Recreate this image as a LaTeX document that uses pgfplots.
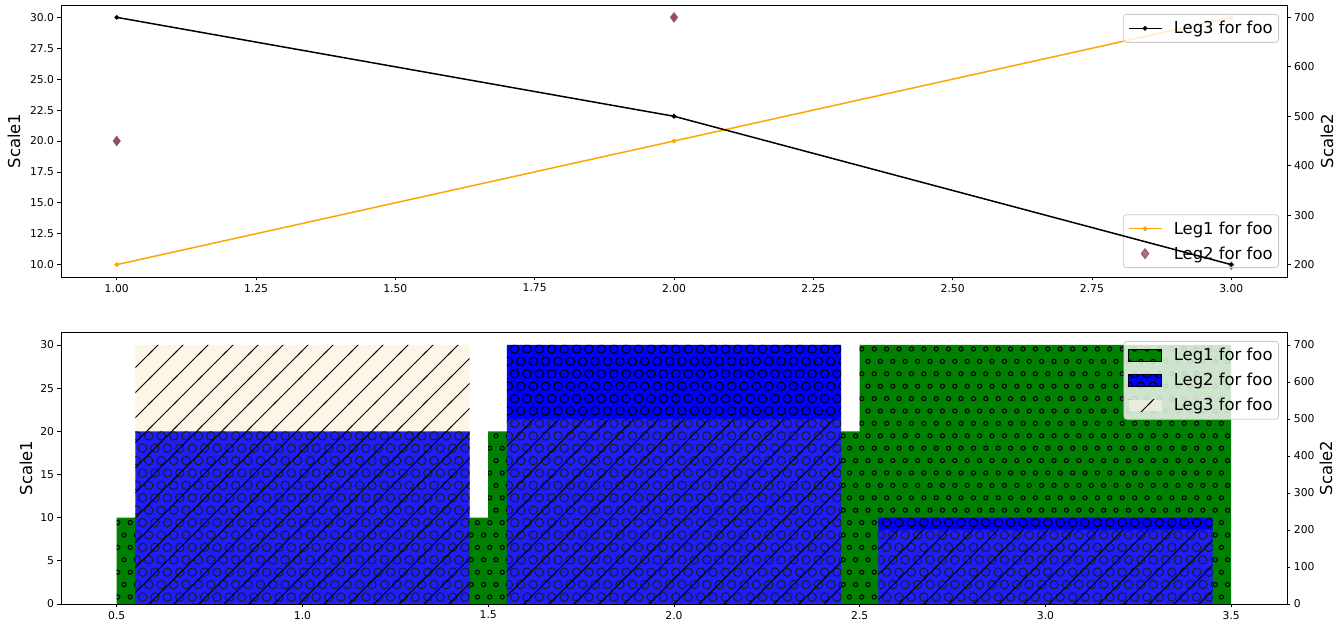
\documentclass[border=0pt]{standalone}
\usepackage{fontspec}
\setmainfont{DejaVu Sans}
\usepackage{pgfplots}
\pgfplotsset{compat=1.18}
\usetikzlibrary{patterns.meta}

\definecolor{mplgreen}{RGB}{0,128,0}
\definecolor{mplblue}{RGB}{0,0,255}
\definecolor{oldlace}{RGB}{253,245,230}
\definecolor{mplorange}{RGB}{255,165,0}
\definecolor{mauve}{RGB}{145,78,115}
\definecolor{legframe}{RGB}{204,204,204}

\tikzdeclarepattern{
  name=mplsmallcircles,
  type=uncolored,
  bounding box={(-4bp,-4bp) and (16.4bp,28.8bp)},
  tile size={(12.4bp,24.8bp)},
  code={
    \draw[line width=1bp] (6.2bp,6.2bp) circle[radius=2.1bp];
    \draw[line width=1bp] (12.4bp,18.6bp) circle[radius=2.1bp];
  }
}
\tikzdeclarepattern{
  name=mpllargecircles,
  type=uncolored,
  bounding box={(-6bp,-6bp) and (18.4bp,30.8bp)},
  tile size={(12.4bp,24.8bp)},
  code={
    \draw[line width=1bp] (6.2bp,6.2bp) circle[radius=4.2bp];
    \draw[line width=1bp] (12.4bp,18.6bp) circle[radius=4.2bp];
  }
}
\tikzdeclarepattern{
  name=mpllines,
  type=uncolored,
  bounding box={(-3bp,-3bp) and (28bp,28bp)},
  tile size={(25bp,25bp)},
  code={
    \draw[line width=1bp] (-2bp,-2bp) -- (27bp,27bp);
  }
}

\pgfplotsset{
  mplbase/.style={
    scale only axis, width=1226bp, height=272bp,
    anchor=south west,
    axis line style={line width=0.8bp, black},
    tick align=outside,
    major tick length=3.5bp,
    tick style={black, line width=0.8bp},
    tick label style={font=\fontsize{10.8}{13}\selectfont, black},
    /pgf/number format/assume math mode=true,
    label style={font=\fontsize{16.5}{20}\selectfont},
    scaled ticks=false,
    legend cell align=left,
    legend style={draw=legframe, line width=0.8bp, fill=white, fill opacity=0.8,
      text opacity=1, rounded corners=3bp,
      font=\fontsize{16.5}{20}\selectfont,
      inner xsep=4.5bp, inner ysep=5.5bp,
      nodes={inner sep=1.5bp},
      row sep=8bp,
      /tikz/every odd column/.append style={column sep=10bp}},
  },
  lineleg/.style={legend image code/.code={%
    \draw[mark repeat=2, mark phase=2, sharp corners, ##1] plot coordinates {(0bp,0bp) (16.5bp,0bp) (33bp,0bp)};}},
}

\begin{document}
\begin{tikzpicture}
% ---------------- top panel: left scale
\begin{axis}[mplbase, at={(61bp,351bp)},
  xmin=0.9, xmax=3.1, ymin=9, ymax=31,
  xtick={1,1.25,1.5,1.75,2,2.25,2.5,2.75,3},
  ytick={10,12.5,15,17.5,20,22.5,25,27.5,30},
  xticklabel style={/pgf/number format/.cd, fixed, fixed zerofill, precision=2},
  yticklabel style={/pgf/number format/.cd, fixed, fixed zerofill, precision=1},
  xtick pos=left, ytick pos=left,
  ylabel={Scale1},
  ylabel style={at={(axis description cs:-0.0383,0.5)}, anchor=center},
  lineleg,
  legend style={at={(0.9935,0.033)}, anchor=south east},
]
\addplot[mplorange, line width=1.5bp, mark=*, mark size=1.5bp] coordinates {(1,10) (2,20) (3,30)};
\addlegendentry{Leg1 for foo}
\addplot[only marks, mauve, mark=diamond*, mark size=5bp] coordinates {(1,20) (2,30) (3,10)};
\addlegendentry{Leg2 for foo}
\end{axis}
% ---------------- top panel: right scale
\begin{axis}[mplbase, at={(61bp,351bp)},
  xmin=0.9, xmax=3.1, ymin=175, ymax=725,
  xtick=\empty,
  ytick={200,300,400,500,600,700},
  ytick pos=right,
  ylabel={Scale2},
  ylabel style={at={(axis description cs:1.0326,0.5)}, anchor=center},
  lineleg,
  legend style={at={(0.9935,0.967)}, anchor=north east},
]
\addplot[black, line width=1.5bp, mark=*, mark size=1.5bp] coordinates {(1,700) (2,500) (3,200)};
\addlegendentry{Leg3 for foo}
\end{axis}

% ---------------- bottom panel: background fill of Leg3 (right scale)
\begin{axis}[mplbase, at={(61bp,24bp)}, hide axis,
  xmin=0.35, xmax=3.65, ymin=0, ymax=735]
\addplot[ybar, bar width=0.9, bar shift=0pt, fill=oldlace, draw=none] coordinates {(1,700) (2,500) (3,200)};
\end{axis}
% ---------------- bottom panel: left scale
\begin{axis}[mplbase, at={(61bp,24bp)},
  xmin=0.35, xmax=3.65, ymin=0, ymax=31.5,
  xtick={0.5,1,1.5,2,2.5,3,3.5},
  ytick={0,5,10,15,20,25,30},
  xticklabel style={/pgf/number format/.cd, fixed, fixed zerofill, precision=1},
  xtick pos=left, ytick pos=left,
  ylabel={Scale1},
  ylabel style={at={(axis description cs:-0.0285,0.5)}, anchor=center},
]
\addplot[ybar, bar width=1, bar shift=0pt, fill=mplgreen, draw=none,
  postaction={pattern=mplsmallcircles, pattern color=black}] coordinates {(1,10) (2,20) (3,30)};
\addplot[ybar, bar width=0.9, bar shift=0pt, fill=mplblue, draw=none,
  postaction={pattern=mpllargecircles, pattern color=black}] coordinates {(1,20) (2,30) (3,10)};
\end{axis}
% ---------------- bottom panel: right scale
\begin{axis}[mplbase, at={(61bp,24bp)},
  xmin=0.35, xmax=3.65, ymin=0, ymax=735,
  xtick=\empty,
  ytick={0,100,200,300,400,500,600,700},
  ytick pos=right,
  ylabel={Scale2},
  ylabel style={at={(axis description cs:1.0318,0.5)}, anchor=center},
  legend style={at={(0.9935,0.967)}, anchor=north east},
]
\addlegendimage{legend image code/.code={%
  \path[sharp corners, draw=none, fill=mplgreen, fill opacity=1, postaction={pattern=mplsmallcircles, pattern color=black}] (0bp,-5.75bp) rectangle (33bp,5.75bp);}}
\addlegendentry{Leg1 for foo}
\addlegendimage{legend image code/.code={%
  \path[sharp corners, draw=none, fill=mplblue, fill opacity=1, postaction={pattern=mpllargecircles, pattern color=black}] (0bp,-5.75bp) rectangle (33bp,5.75bp);}}
\addlegendentry{Leg2 for foo}
\addplot[ybar, bar width=0.9, bar shift=0pt, fill=oldlace, fill opacity=0.12, draw=none, forget plot]
  coordinates {(1,700) (2,500) (3,200)};
\addplot[ybar, bar width=0.9, bar shift=0pt, draw=none, pattern=mpllines, pattern color=black,
  legend image code/.code={%
  \path[sharp corners, draw=none, fill=oldlace, fill opacity=0.6] (0bp,-5.75bp) rectangle (33bp,5.75bp);
  \path[sharp corners, draw=none, pattern=mpllines, pattern color=black] (0bp,-5.75bp) rectangle (33bp,5.75bp);}]
  coordinates {(1,700) (2,500) (3,200)};
\addlegendentry{Leg3 for foo}
\end{axis}
\pgfresetboundingbox
\path[use as bounding box] (0bp,0bp) rectangle (1340bp,628bp);
\end{tikzpicture}
\end{document}
